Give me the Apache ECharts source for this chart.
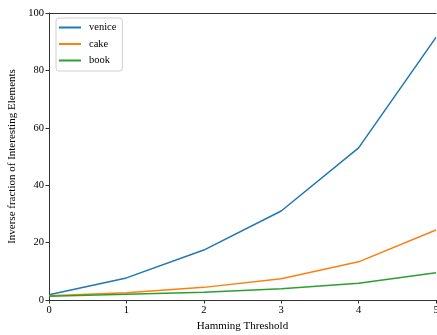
<!DOCTYPE html>
<html><head><meta charset="utf-8">
<script src="https://cdn.jsdelivr.net/npm/echarts@6/dist/echarts.min.js"></script>
<style>html,body{margin:0;padding:0;background:#fff}#c{width:437px;height:335px}</style>
</head><body><div id="c"></div>
<script>
const categories = [0, 1, 2, 3, 4, 5];
const venice = [1.8, 7.7, 17.4, 31.0, 53.0, 91.5];
const cake = [1.5, 2.5, 4.4, 7.4, 13.3, 24.4];
const book = [1.3, 2.0, 2.7, 3.9, 5.8, 9.5];
const yTicks = [0, 20, 40, 60, 80, 100];
const font = 'Liberation Serif, Times New Roman, serif';
const axisCol = '#333';
const chart = echarts.init(document.getElementById('c'));
const mk = (name, data, color) => ({
  name, type: 'line', data: categories.map((x, i) => [x, data[i]]),
  showSymbol: false, symbol: 'none', lineStyle: {color, width: 1.5}, itemStyle: {color}, animation: false
});
chart.setOption({
  animation: false,
  textStyle: {fontFamily: font},
  grid: {left: 49, top: 13, right: 1, bottom: 35, containLabel: false, outerBoundsMode: 'none'},
  legend: {
    left: 56, top: 18, orient: 'vertical', itemWidth: 22, itemHeight: 2, itemGap: 5.5,
    icon: 'rect', backgroundColor: '#fff', borderColor: '#d0d0d0', borderWidth: 1, borderRadius: 3,
    padding: [4, 6, 5, 3],
    textStyle: {fontFamily: font, fontSize: 10.5, color: '#000', padding: [0, 0, 0, 3]},
    data: ['venice', 'cake', 'book']
  },
  xAxis: [{
    type: 'value', min: 0, max: 5, interval: 1,
    name: 'Hamming Threshold', nameLocation: 'middle', nameGap: 21,
    nameTextStyle: {fontFamily: font, fontSize: 11, color: '#000'},
    axisLine: {show: true, lineStyle: {color: axisCol, width: 1}},
    axisTick: {show: true, length: 3.5, lineStyle: {color: axisCol}},
    axisLabel: {fontFamily: font, fontSize: 10.5, color: '#000', margin: 5},
    splitLine: {show: false}
  }, {
    type: 'value', min: 0, max: 5, position: 'top',
    axisLine: {show: true, lineStyle: {color: axisCol, width: 1}},
    axisTick: {show: false}, axisLabel: {show: false}, splitLine: {show: false}
  }],
  yAxis: {
    type: 'value', min: 0, max: 100, interval: 20,
    name: 'Inverse fraction of Interesting Elements', nameLocation: 'middle', nameGap: 29,
    nameTextStyle: {fontFamily: font, fontSize: 11, color: '#000'},
    axisLine: {show: true, lineStyle: {color: axisCol, width: 1}},
    axisTick: {show: true, length: 3.5, lineStyle: {color: axisCol}},
    axisLabel: {fontFamily: font, fontSize: 10.5, color: '#000', margin: 5,
      formatter: v => yTicks.includes(v) ? String(v) : ''},
    splitLine: {show: false}
  },
  series: [mk('venice', venice, '#1f77b4'), mk('cake', cake, '#ff7f0e'), mk('book', book, '#2ca02c')]
});
</script></body></html>
